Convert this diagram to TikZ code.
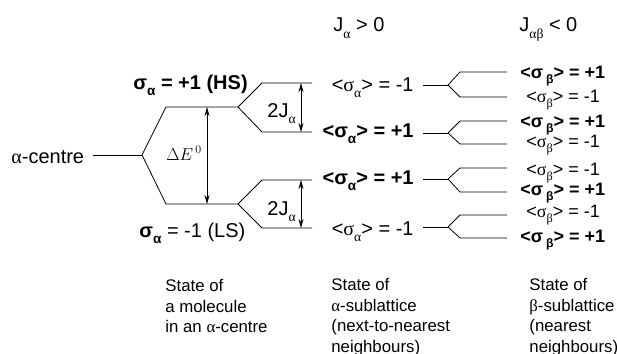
\documentclass[tikz,border=0pt]{standalone}
\usepackage{fontspec}
\usepackage{graphicx}
\setmainfont{Liberation Sans}
\newfontfamily\grk{Liberation Serif}
\usetikzlibrary{arrows.meta}
% lowered, reduced subscript for use in running text
\newcommand\lsub[1]{\raisebox{-0.3em}{\scalebox{0.68}{#1}}}
\newcommand\gra{{\grk α}}
\newcommand\grs{{\grk σ}}
\newcommand\grb{{\grk β}}
\newcommand\bsa{\bfseries<σ\lsub{α}> = +1}
\newcommand\nsa{<\grs\lsub{\gra}> = -1}
\newcommand\bsb{\bfseries<σ\,\lsub{β}> = +1}
\newcommand\nsb{<\grs\lsub{\grb}> = -1}

\begin{document}
\begin{tikzpicture}[x=1pt,y=-1pt,line width=0.8pt,
  lbl/.style={inner sep=0pt,font=\fontsize{20}{24}\selectfont},
  rlbl/.style={inner sep=0pt,anchor=base west,font=\fontsize{18}{22}\selectfont},
  captxt/.style={inner sep=0pt,anchor=north west,align=left,font=\fontsize{16.8}{20.5}\selectfont},
  dim/.style={{Stealth[length=9pt,width=5pt]}-{Stealth[length=9pt,width=5pt]},line width=0.7pt}]
\useasboundingbox (0,0) rectangle (617,353);

% ---- alpha-centre and its two spin states
\node[lbl,anchor=base west] (centre) at (11,163) {\gra-centre};
\coordinate (c0) at (142,155);
\coordinate (hsl) at (166,107);
\coordinate (hsr) at (238,107);
\coordinate (lsl) at (166,204);
\coordinate (lsr) at (238,204);
\coordinate (cs) at (93,155);
\draw (cs) -- (c0);
\draw (c0) -- (hsl) -- (hsr);
\draw (c0) -- (lsl) -- (lsr);
\node[lbl,anchor=base west] (hs) at (133,89) {\bfseries σ\lsub{α} = +1 (HS)};
\node[lbl,anchor=base west] (ls) at (139,237) {{\bfseries σ\lsub{α}} = -1 (LS)};

% energy gap
\coordinate (de1) at (207,107);
\coordinate (de2) at (207,204);
\draw[dim] (de1) -- (de2);
\node[inner sep=0pt,anchor=base west,font=\fontsize{18}{22}\selectfont] (de) at (166,160) {$\Delta E^{\,0}$};

% ---- splitting by J_alpha
\coordinate (u0) at (238,107);
\coordinate (ua) at (262,83);  \coordinate (ua2) at (312,83);
\coordinate (ub) at (262,132); \coordinate (ub2) at (312,132);
\draw (u0) -- (ua) -- (ua2);
\draw (u0) -- (ub) -- (ub2);
\coordinate (ja1) at (301,83); \coordinate (ja2) at (301,132);
\draw[dim] (ja1) -- (ja2);
\node[lbl,anchor=base west] (j1) at (267,117) {2J\lsub{\gra}};

\coordinate (l0) at (238,204);
\coordinate (la) at (262,180); \coordinate (la2) at (312,180);
\coordinate (lb) at (262,228); \coordinate (lb2) at (312,228);
\draw (l0) -- (la) -- (la2);
\draw (l0) -- (lb) -- (lb2);
\coordinate (jb1) at (301,180); \coordinate (jb2) at (301,228);
\draw[dim] (jb1) -- (jb2);
\node[lbl,anchor=base west] (j2) at (267,215) {2J\lsub{\gra}};

% ---- alpha-sublattice states
\node[lbl,anchor=base west] (ha) at (333,32) {J\lsub{\gra} > 0};
\node[lbl,anchor=base east] (m1) at (414,91) {\nsa};
\node[lbl,anchor=base east] (m2) at (414,137) {\bsa};
\node[lbl,anchor=base east] (m3) at (414,184) {\bsa};
\node[lbl,anchor=base east] (m4) at (414,235) {\nsa};

% ---- splitting by J_alpha-beta
\node[lbl,anchor=base west] (hb) at (519,32) {J\lsub{\gra\grb} < 0};
\foreach \i/\yv/\yt/\yb in {1/85/72/97, 2/133/121/144, 3/179/168/192, 4/227/215/238}{
  \coordinate (s\i) at (423,\yv);
  \coordinate (v\i) at (448,\yv);
  \coordinate (t\i) at (460,\yt); \coordinate (te\i) at (507,\yt);
  \coordinate (b\i) at (460,\yb); \coordinate (be\i) at (507,\yb);
  \draw (s\i) -- (v\i);
  \draw (v\i) -- (t\i) -- (te\i);
  \draw (v\i) -- (b\i) -- (be\i);
}

% ---- beta-sublattice states
\node[rlbl] (r1) at (520,78)  {\bsb};
\node[rlbl] (r2) at (526,102) {\nsb};
\node[rlbl] (r3) at (520,127) {\bsb};
\node[rlbl] (r4) at (526,147) {\nsb};
\node[rlbl] (r5) at (526,175) {\nsb};
\node[rlbl] (r6) at (520,195) {\bsb};
\node[rlbl] (r7) at (526,217) {\nsb};
\node[rlbl] (r8) at (520,242) {\bsb};

% ---- captions
\node[captxt] (cap1) at (165,279) {State of\\a molecule\\in an \gra-centre};
\node[captxt] (cap2) at (331,278) {State of\\\gra-sublattice\\(next-to-nearest\\neighbours)};
\node[captxt] (cap3) at (529,278) {State of\\\grb-sublattice\\(nearest\\neighbours)};
\end{tikzpicture}
\end{document}
